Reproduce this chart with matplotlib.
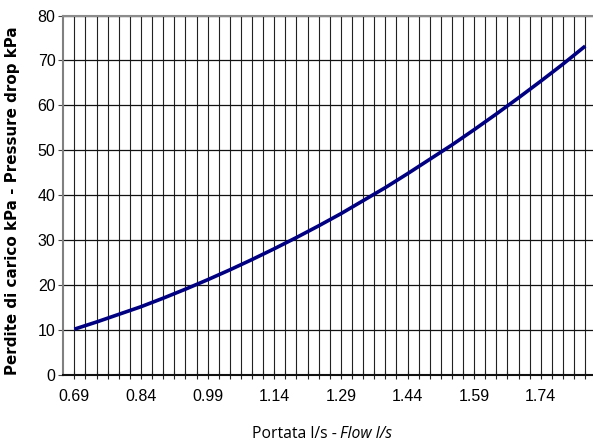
import matplotlib
matplotlib.use("Agg")
import matplotlib.pyplot as plt
import numpy as np

# Flow (l/s) and pressure drop (kPa)
flow = [0.69, 0.74, 0.79, 0.84, 0.89, 0.94, 0.99, 1.04, 1.09, 1.14, 1.19, 1.24,
        1.29, 1.34, 1.39, 1.44, 1.49, 1.54, 1.59, 1.64, 1.69, 1.74, 1.79, 1.84]
pressure = [10.2, 11.8, 13.5, 15.2, 17.1, 19.1, 21.2, 23.4, 25.7, 28.1, 30.6, 33.2,
            35.9, 38.8, 41.7, 44.8, 48.0, 51.2, 54.6, 58.1, 61.7, 65.4, 69.2, 73.2]
x_labels = ["0.69", "0.84", "0.99", "1.14", "1.29", "1.44", "1.59", "1.74"]
y_ticks = [0, 10, 20, 30, 40, 50, 60, 70, 80]

fig = plt.figure(figsize=(5.93, 4.46), dpi=100)
ax = fig.add_axes([0.1067, 0.1592, 0.8933, 0.806])

ax.plot(flow, pressure, color="#000080", linewidth=2.6, solid_capstyle="butt", zorder=3)

ax.set_xlim(0.665, 1.8575)
ax.set_ylim(0, 80)

major_x = np.round(0.69 + 0.15 * np.arange(len(x_labels)), 3)
minor_x = np.round(np.arange(0.69, 1.8501, 0.025), 3)
ax.set_xticks(major_x)
ax.set_xticklabels(x_labels)
ax.set_xticks(minor_x, minor=True)
ax.set_yticks(y_ticks)

for t in ax.get_xticklabels() + ax.get_yticklabels():
    t.set_fontfamily("Liberation Sans")
    t.set_fontsize(11.5)

ax.tick_params(axis="x", which="both", direction="inout", length=6, width=0.8,
               pad=7, color="#222222")
ax.tick_params(axis="y", direction="out", length=3.6, width=0.8, pad=2,
               color="#444444")

ax.grid(True, which="both", axis="x", color="#222222", linewidth=0.8)
ax.grid(True, which="major", axis="y", color="#111111", linewidth=0.9)
ax.set_axisbelow(True)

ax.spines["right"].set_visible(False)
ax.spines["top"].set_color("#8c8c8c")
ax.spines["top"].set_linewidth(1.5)
ax.spines["left"].set_color("#808080")
ax.spines["left"].set_linewidth(1.5)
ax.spines["bottom"].set_color("#111111")
ax.spines["bottom"].set_linewidth(1.5)

fig.text(12.5 / 593, 1 - 200.5 / 446, "Perdite di carico kPa - Pressure drop kPa",
         rotation=90, ha="center", va="center", fontsize=10.9,
         fontweight="bold", family="DejaVu Sans")

# x label: plain part + italic part
fig.canvas.draw()
renderer = fig.canvas.get_renderer()
y_lab = 1 - 434.5 / 446
t1 = fig.text(0, y_lab, "Portata l/s - ", fontsize=11.3, family="Open Sans",
              ha="left", va="center")
t2 = fig.text(0, y_lab, "Flow l/s", fontsize=11.3, family="Open Sans",
              style="italic", ha="left", va="center")
w1 = t1.get_window_extent(renderer).width
w2 = t2.get_window_extent(renderer).width
x0 = 322 - (w1 + w2) / 2
t1.set_x(x0 / 593)
t2.set_x((x0 + w1) / 593)

fig.savefig("out.png", dpi=100)
